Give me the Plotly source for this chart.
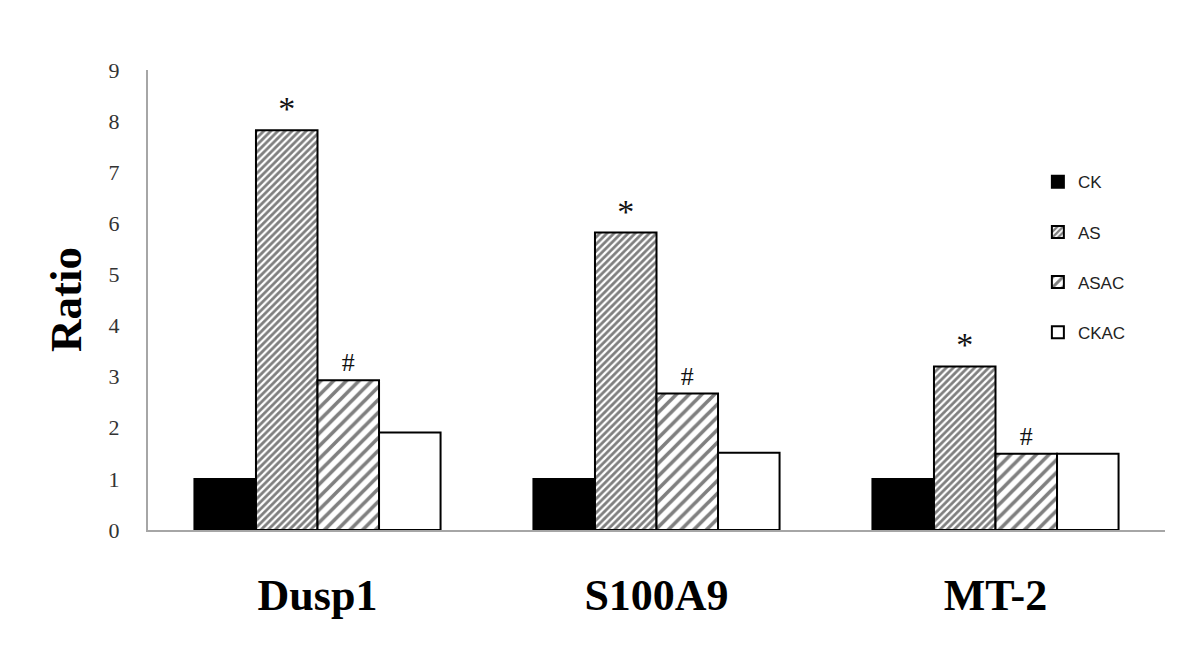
import plotly.graph_objects as go

genes = ["Dusp1", "S100A9", "MT-2"]
series_names = ["CK", "AS", "ASAC", "CKAC"]
ck = [1.0, 1.0, 1.0]
as_vals = [7.82, 5.82, 3.2]
asac = [2.93, 2.67, 1.49]
ckac = [1.91, 1.51, 1.49]
as_marks = ["*", "*", "*"]
asac_marks = ["#", "#", "#"]
y_ticks = [0, 1, 2, 3, 4, 5, 6, 7, 8, 9]

serif = "Liberation Serif, Times New Roman, serif"
sans = "Liberation Sans, Arial, sans-serif"

fig = go.Figure()
line = dict(color="black", width=2)

fig.add_trace(go.Bar(
    name=series_names[0], x=genes, y=ck, legendgroup="g1",
    marker=dict(color="black", line=line),
))
fig.add_trace(go.Bar(
    name=series_names[1], x=genes, y=as_vals, legendgroup="g2",
    text=as_marks, textposition="outside", cliponaxis=False,
    textfont=dict(family=serif, size=34, color="#111"),
    marker=dict(color="white", line=line,
                pattern=dict(shape="/", fgcolor="black", bgcolor="white", size=5, solidity=0.55)),
))
fig.add_trace(go.Bar(
    name=series_names[2], x=genes, y=asac, legendgroup="g3",
    text=asac_marks, textposition="outside", cliponaxis=False,
    textfont=dict(family=serif, size=26, color="#111"),
    marker=dict(color="white", line=line,
                pattern=dict(shape="/", fgcolor="black", bgcolor="white", size=9, solidity=0.4)),
))
fig.add_trace(go.Bar(
    name=series_names[3], x=genes, y=ckac, legendgroup="g4",
    marker=dict(color="white", line=line),
))

fig.update_layout(
    width=1192, height=644,
    margin=dict(l=140, r=35, t=62, b=122),
    plot_bgcolor="white", paper_bgcolor="white",
    barmode="group", bargap=0.274, bargroupgap=0,
    showlegend=True,
    legend=dict(
        x=0.875, y=0.795, xanchor="left", yanchor="top",
        font=dict(family=sans, size=17, color="#222"),
        tracegroupgap=25, bgcolor="rgba(0,0,0,0)",
        itemwidth=30,
    ),
    xaxis=dict(
        showline=True, linecolor="#a6a6a6", linewidth=2, automargin=False,
        ticks="", tickfont=dict(family=serif, size=44, color="black"),
        ticklabelstandoff=25, showgrid=False,
        tickvals=genes, ticktext=["<b>%s</b>" % g for g in genes],
    ),
    yaxis=dict(
        range=[0, 9], tickvals=y_ticks, automargin=False,
        showline=True, linecolor="#a6a6a6", linewidth=2,
        ticks="", tickfont=dict(family=serif, size=22, color="#333"),
        ticklabelstandoff=22, showgrid=False, zeroline=False,
    ),
    annotations=[dict(
        text="<b>Ratio</b>", xref="paper", yref="paper", x=0, y=0.5,
        xshift=-82, xanchor="center", yanchor="middle", textangle=-90,
        showarrow=False, font=dict(family=serif, size=45, color="black"),
    )],
    font=dict(family=serif),
)

fig.write_html("out.html")
